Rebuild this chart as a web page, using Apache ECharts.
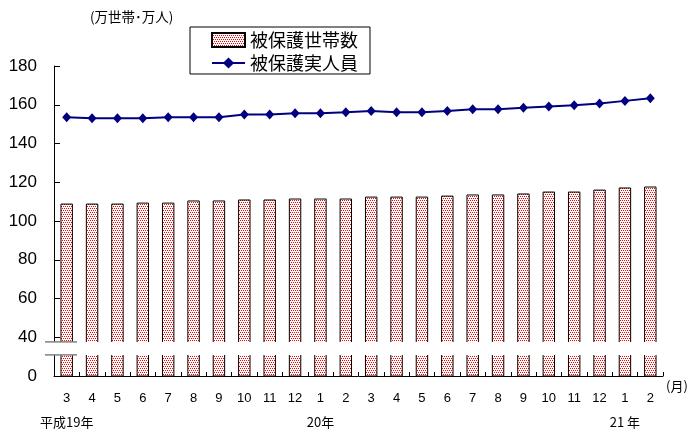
<!DOCTYPE html>
<html>
<head>
<meta charset="utf-8">
<script src="https://cdn.jsdelivr.net/npm/echarts@6/dist/echarts.min.js"></script>
<style>
html,body{margin:0;padding:0;background:#fff;}
#c{width:698px;height:439px;}
</style>
</head>
<body>
<div id="c"></div>
<script>
var months = ['3','4','5','6','7','8','9','10','11','12','1','2','3','4','5','6','7','8','9','10','11','12','1','2'];
var yearLabels = ['平成19年','','','','','','','','','','20年','','','','','','','','','','','','21 年',''];
var households = [109.0,109.0,109.0,109.5,109.5,110.6,110.6,111.1,111.1,111.6,111.6,111.6,112.6,112.6,112.6,113.1,113.7,113.7,114.2,115.2,115.2,116.2,117.3,117.8];
var persons = [153.6,153.0,153.0,153.0,153.6,153.6,153.6,155.0,155.0,155.6,155.6,156.1,156.8,156.1,156.1,156.8,157.7,157.7,158.4,159.1,159.7,160.7,162.0,163.4];
var yTickLabels = {20:'0',40:'40',60:'60',80:'80',100:'100',120:'120',140:'140',160:'160',180:'180'};
var seriesNames = ['被保護世帯数','被保護実人員'];

var pc = document.createElement('canvas');
pc.width = 4; pc.height = 4;
var g = pc.getContext('2d');
g.fillStyle = '#ffffff'; g.fillRect(0,0,4,4);
g.fillStyle = '#ff0000';
g.fillRect(0,0,1,1); g.fillRect(2,0,1,1); g.fillRect(1,2,1,1); g.fillRect(3,2,1,1);

var FONT = "'Liberation Sans', 'Noto Sans CJK JP', sans-serif";
var CJK = "'Noto Sans CJK JP', 'Liberation Sans', sans-serif";

var chart = echarts.init(document.getElementById('c'), null, {renderer:'canvas'});
var option = {
  animation: false,
  backgroundColor: '#ffffff',
  grid: {left: 54, right: 35, top: 66, bottom: 63, containLabel: false},
  legend: {
    orient: 'vertical',
    left: 190, top: 27,
    padding: [4, 12, 2, 21],
    itemGap: 5,
    itemWidth: 33, itemHeight: 14,
    borderColor: '#000', borderWidth: 1,
    data: [{name: seriesNames[0], icon: 'rect'}, {name: seriesNames[1]}],
    textStyle: {fontFamily: CJK, fontSize: 18, color: '#000'}
  },
  xAxis: [{
    type: 'category',
    data: months,
    position: 'bottom',
    axisLine: {lineStyle: {color: '#000', width: 1}},
    axisTick: {show: true, inside: true, length: 4, lineStyle: {color: '#000'}},
    axisLabel: {color: '#000', fontFamily: FONT, fontSize: 13, margin: 16, interval: 0}
  }, {
    type: 'category',
    data: months,
    position: 'bottom',
    offset: 24,
    axisLine: {show: false},
    axisTick: {show: false},
    axisLabel: {color: '#000', fontFamily: CJK, fontSize: 13, margin: 16, interval: 0,
      formatter: function (v, i) { return yearLabels[i]; }}
  }],
  yAxis: {
    type: 'value',
    min: 20, max: 180, interval: 20,
    splitLine: {show: false},
    axisLine: {show: true, lineStyle: {color: '#000', width: 1}},
    axisTick: {show: true, inside: true, length: 6, lineStyle: {color: '#000'}},
    axisLabel: {color: '#000', fontFamily: FONT, fontSize: 17, margin: 17,
      formatter: function (v) { return yTickLabels[v] !== undefined ? yTickLabels[v] : ''; }}
  },
  series: [{
    name: seriesNames[0],
    type: 'bar',
    data: households,
    barWidth: '49%',
    clip: true,
    itemStyle: {color: {image: pc, repeat: 'repeat'}, borderColor: '#000', borderWidth: 1}
  }, {
    name: seriesNames[1],
    type: 'line',
    data: persons,
    symbol: 'diamond',
    symbolSize: [9, 10],
    z: 5,
    lineStyle: {color: '#000080', width: 2},
    itemStyle: {color: '#000080'}
  }],
  graphic: [
    {type: 'text', left: 90, top: 10, style: {text: '(万世帯･万人)', fontFamily: CJK, fontSize: 13.5, fill: '#000'}},
    {type: 'text', left: 666, top: 380, style: {text: '(月)', fontFamily: CJK, fontSize: 13, fill: '#000'}}
  ]
};
chart.setOption(option);

var yTop = chart.convertToPixel({yAxisIndex: 0}, 37.6);
var yBot = chart.convertToPixel({yAxisIndex: 0}, 30.9);
chart.setOption({
  graphic: [
    {type: 'text', left: 90, top: 10, style: {text: '(万世帯･万人)', fontFamily: CJK, fontSize: 13.5, fill: '#000'}},
    {type: 'text', left: 666, top: 380, style: {text: '(月)', fontFamily: CJK, fontSize: 13, fill: '#000'}},
    {type: 'rect', z: 100, shape: {x: 44, y: yTop, width: 622, height: yBot - yTop}, style: {fill: '#ffffff'}},
    {type: 'line', z: 101, shape: {x1: 45, y1: yTop, x2: 77, y2: yTop}, style: {stroke: '#808080', lineWidth: 1.5}},
    {type: 'line', z: 101, shape: {x1: 45, y1: yBot, x2: 77, y2: yBot}, style: {stroke: '#808080', lineWidth: 1.5}}
  ]
}, {replaceMerge: ['graphic']});
</script>
</body>
</html>
